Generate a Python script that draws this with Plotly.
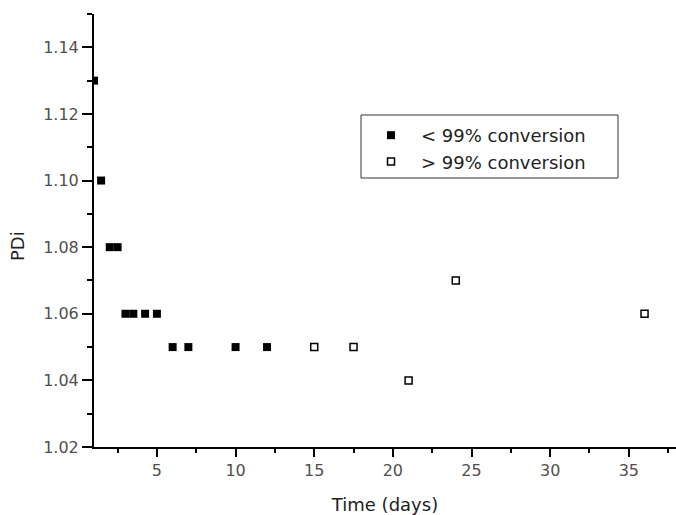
import plotly.graph_objects as go

# PDi measurements over time, split by monomer conversion
low_time = [1.0, 1.45, 2.0, 2.5, 3.0, 3.5, 4.25, 5.0, 6.0, 7.0, 10.0, 12.0]
low_pdi = [1.13, 1.10, 1.08, 1.08, 1.06, 1.06, 1.06, 1.06, 1.05, 1.05, 1.05, 1.05]

high_time = [15.0, 17.5, 21.0, 24.0, 36.0]
high_pdi = [1.05, 1.05, 1.04, 1.07, 1.06]

series_names = ["< 99% conversion", "> 99% conversion"]

FONT = "DejaVu Sans"
W, H = 676, 515
M = dict(l=94, r=0, t=14, b=68)
plot_w = W - M["l"] - M["r"]
plot_h = H - M["t"] - M["b"]


def px_x(px):
    """Horizontal pixel position -> paper fraction."""
    return (px - M["l"]) / plot_w


def px_y(py):
    """Vertical pixel position (from top) -> paper fraction."""
    return (H - M["b"] - py) / plot_h


fig = go.Figure()
fig.add_trace(go.Scatter(
    x=low_time, y=low_pdi, mode="markers", name=series_names[0],
    marker=dict(symbol="square", size=8, color="black", line=dict(width=0)),
))
fig.add_trace(go.Scatter(
    x=high_time, y=high_pdi, mode="markers", name=series_names[1],
    marker=dict(symbol="square", size=7, color="white",
                line=dict(width=1.5, color="black")),
))

axis_common = dict(
    showgrid=False, zeroline=False, showline=True,
    linecolor="black", linewidth=2,
    ticks="outside", tickcolor="black", tickwidth=2,
    tickfont=dict(family=FONT, size=16, color="#505050"),
)

fig.update_xaxes(
    **axis_common,
    range=[1, 38], tick0=0, dtick=5, ticklen=8,
    minor=dict(ticks="outside", dtick=2.5, ticklen=4, tickwidth=2, tickcolor="black"),
    title=dict(text="Time (days)", font=dict(family=FONT, size=18, color="#222222"),
               standoff=19),
)
fig.update_yaxes(
    **axis_common,
    range=[1.02, 1.15], tick0=1.02, dtick=0.02, tickformat=".2f", ticklen=10,
    minor=dict(ticks="outside", dtick=0.01, ticklen=5, tickwidth=2, tickcolor="black"),
)

fig.add_annotation(
    text="PDi", textangle=-90, showarrow=False,
    xref="paper", yref="paper", x=px_x(17), y=px_y(246),
    xanchor="center", yanchor="middle",
    font=dict(family=FONT, size=18, color="#222222"),
)

# frame around the legend entries
fig.add_shape(
    type="rect", xref="paper", yref="paper",
    x0=px_x(361), x1=px_x(618), y0=px_y(178), y1=px_y(115),
    line=dict(color="#333333", width=1), fillcolor="white", layer="below",
)

fig.update_layout(
    width=W, height=H, margin=M,
    paper_bgcolor="white", plot_bgcolor="white",
    showlegend=True,
    legend=dict(
        x=px_x(361), y=px_y(117),
        xanchor="left", yanchor="top",
        bgcolor="rgba(0,0,0,0)", borderwidth=0,
        font=dict(family=FONT, size=18, color="#222222"),
        itemwidth=50,
    ),
)

fig.write_html("out.html")
